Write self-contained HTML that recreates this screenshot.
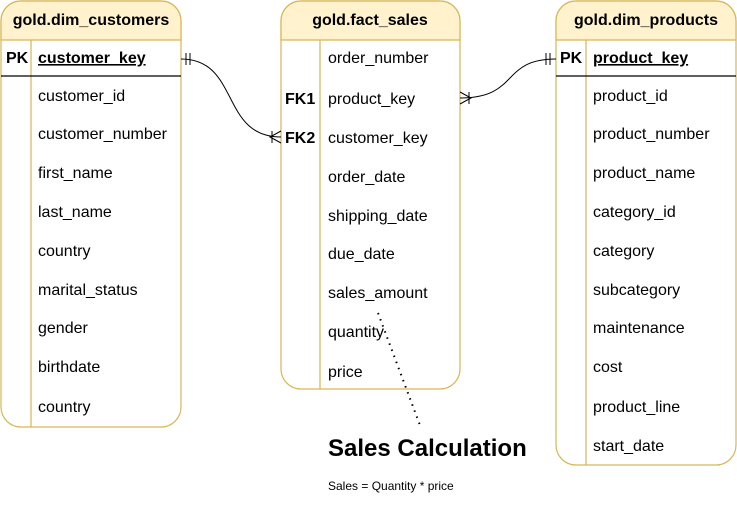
<!DOCTYPE html>
<html><head><style>body{margin:0;background:#fff}</style></head><body>
<svg width="737" height="504" xmlns="http://www.w3.org/2000/svg" font-family="Liberation Sans, Arial, sans-serif" font-size="16">
<g stroke="#d6b656" stroke-width="1.2">
<path d="M1,407 V21 A20,20 0 0 1 21,1 H161 A20,20 0 0 1 181,21 V407 A20,20 0 0 1 161,427 H21 A20,20 0 0 1 1,407 Z" fill="#fff"/>
<path d="M1,40 V21 A20,20 0 0 1 21,1 H161 A20,20 0 0 1 181,21 V40 Z" fill="#fff2cc"/>
<line x1="31" y1="40" x2="31" y2="427"/>
<path d="M281,369 V21 A20,20 0 0 1 301,1 H440 A20,20 0 0 1 460,21 V369 A20,20 0 0 1 440,389 H301 A20,20 0 0 1 281,369 Z" fill="#fff"/>
<path d="M281,40 V21 A20,20 0 0 1 301,1 H440 A20,20 0 0 1 460,21 V40 Z" fill="#fff2cc"/>
<line x1="320" y1="40" x2="320" y2="389"/>
<path d="M556,445 V21 A20,20 0 0 1 576,1 H716 A20,20 0 0 1 736,21 V445 A20,20 0 0 1 716,465 H576 A20,20 0 0 1 556,445 Z" fill="#fff"/>
<path d="M556,40 V21 A20,20 0 0 1 576,1 H716 A20,20 0 0 1 736,21 V40 Z" fill="#fff2cc"/>
<line x1="586" y1="40" x2="586" y2="465"/>
</g>
<line x1="1" y1="76" x2="181" y2="76" stroke="#000" stroke-width="1.2"/>
<line x1="556" y1="76" x2="736" y2="76" stroke="#000" stroke-width="1.2"/>
<g font-weight="bold" text-anchor="middle">
<text x="91" y="25">gold.dim_customers</text>
<text x="370" y="25">gold.fact_sales</text>
<text x="646" y="25">gold.dim_products</text>
</g>
<g font-weight="bold">
<text x="6" y="63">PK</text>
<text x="38" y="63" text-decoration="underline">customer_key</text>
<text x="285" y="104">FK1</text>
<text x="285" y="143">FK2</text>
<text x="560" y="63">PK</text>
<text x="593" y="63" text-decoration="underline">product_key</text>
</g>
<g>
<text x="38" y="101">customer_id</text><text x="38" y="139">customer_number</text><text x="38" y="178">first_name</text><text x="38" y="217">last_name</text><text x="38" y="256">country</text><text x="38" y="295">marital_status</text><text x="38" y="333">gender</text><text x="38" y="372">birthdate</text><text x="38" y="412">country</text>
<text x="328" y="63">order_number</text><text x="328" y="104">product_key</text><text x="328" y="143">customer_key</text><text x="328" y="182">order_date</text><text x="328" y="221">shipping_date</text><text x="328" y="259">due_date</text><text x="328" y="298">sales_amount</text><text x="328" y="337">quantity</text><text x="328" y="377">price</text>
<text x="593" y="101">product_id</text><text x="593" y="139">product_number</text><text x="593" y="178">product_name</text><text x="593" y="217">category_id</text><text x="593" y="256">category</text><text x="593" y="295">subcategory</text><text x="593" y="333">maintenance</text><text x="593" y="372">cost</text><text x="593" y="412">product_line</text><text x="593" y="451">start_date</text>
</g>
<g fill="none" stroke="#000" stroke-width="1">
<path d="M181,59 C240,59 220,137 281,137"/>
<line x1="186" y1="53" x2="186" y2="65"/><line x1="190" y1="53" x2="190" y2="65"/>
<path d="M281,131 L270,137 L281,143"/><line x1="272" y1="131" x2="272" y2="143"/>
<path d="M460,98 C520,98 500,59 556,59"/>
<line x1="546" y1="53" x2="546" y2="65"/><line x1="550" y1="53" x2="550" y2="65"/>
<path d="M460,92 L471,98 L460,104"/><line x1="469" y1="92" x2="469" y2="104"/>
<line x1="378" y1="313" x2="421" y2="428" stroke-dasharray="1.5 5" stroke-width="2"/>
</g>
<text x="328" y="456" font-weight="bold" font-size="24">Sales Calculation</text>
<text x="328" y="490" font-size="12">Sales = Quantity * price</text>
</svg>
</body></html>
